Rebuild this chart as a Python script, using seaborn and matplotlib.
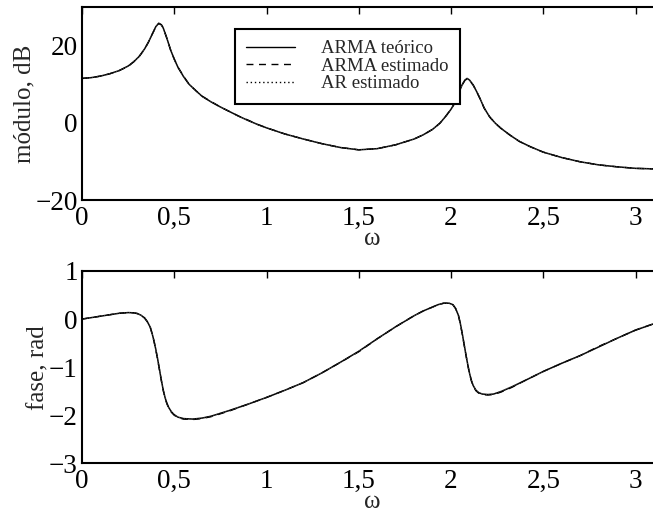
import numpy as np
import pandas as pd
import matplotlib
matplotlib.use("Agg")
import matplotlib.pyplot as plt
import seaborn as sns

# ---------------- data ----------------
omega_mag = [0.00, 0.05, 0.10, 0.15, 0.20, 0.25, 0.28, 0.31, 0.34, 0.36,
             0.38, 0.40, 0.416, 0.43, 0.44, 0.46, 0.48, 0.50, 0.52, 0.55,
             0.58, 0.62, 0.65, 0.70, 0.75, 0.80, 0.85, 0.90, 0.95, 1.00,
             1.10, 1.20, 1.30, 1.40, 1.50, 1.60, 1.70, 1.80, 1.85, 1.90,
             1.94, 1.97, 2.00, 2.02, 2.04, 2.06, 2.075, 2.087, 2.10, 2.12,
             2.14, 2.16, 2.18, 2.21, 2.24, 2.27, 2.32, 2.37, 2.43, 2.50,
             2.60, 2.70, 2.80, 2.90, 3.00, 3.1416]
mag_arma_teo = [11.5, 11.7, 12.1, 12.7, 13.5, 14.7, 15.8, 17.2, 19.2, 20.9,
                22.9, 24.9, 25.8, 25.4, 24.6, 21.9, 18.9, 16.5, 14.4, 12.0,
                10.0, 8.2, 6.9, 5.4, 4.1, 2.9, 1.7, 0.6, -0.4, -1.3,
                -2.9, -4.2, -5.4, -6.4, -7.0, -6.7, -5.7, -4.2, -3.1, -1.7,
                -0.1, 1.6, 3.5, 5.1, 7.5, 9.8, 11.0, 11.5, 11.1, 9.8,
                8.0, 6.0, 3.8, 1.5, -0.1, -1.4, -3.2, -4.8, -6.2, -7.6,
                -9.0, -10.1, -10.9, -11.4, -11.8, -12.0]
mag_arma_est = [11.5, 11.7, 12.1, 12.7, 13.5, 14.6, 15.8, 17.2, 19.1, 20.9,
                22.9, 24.8, 25.7, 25.4, 24.6, 21.9, 18.9, 16.5, 14.4, 12.1,
                10.0, 8.2, 6.9, 5.5, 4.1, 2.9, 1.7, 0.7, -0.4, -1.3,
                -2.9, -4.2, -5.4, -6.4, -7.0, -6.7, -5.7, -4.2, -3.1, -1.7,
                -0.1, 1.6, 3.5, 5.1, 7.4, 9.8, 11.0, 11.4, 11.0, 9.8,
                8.0, 6.0, 3.8, 1.5, -0.1, -1.4, -3.2, -4.8, -6.2, -7.6,
                -9.0, -10.1, -10.9, -11.4, -11.8, -12.0]
mag_ar_est = [11.5, 11.7, 12.1, 12.7, 13.5, 14.7, 15.8, 17.2, 19.2, 20.9,
              22.8, 24.9, 25.8, 25.4, 24.5, 21.9, 18.9, 16.5, 14.4, 12.0,
              10.0, 8.2, 6.8, 5.4, 4.1, 2.9, 1.7, 0.6, -0.4, -1.3,
              -2.9, -4.2, -5.4, -6.4, -7.0, -6.7, -5.7, -4.2, -3.1, -1.7,
              -0.1, 1.6, 3.5, 5.1, 7.5, 9.8, 11.0, 11.5, 11.1, 9.8,
              8.0, 6.0, 3.8, 1.5, -0.1, -1.4, -3.2, -4.7, -6.2, -7.6,
              -9.0, -10.1, -10.9, -11.4, -11.8, -12.0]

omega_fase = [0.00, 0.05, 0.10, 0.15, 0.20, 0.25, 0.28, 0.30, 0.32, 0.34,
              0.355, 0.37, 0.38, 0.39, 0.40, 0.41, 0.42, 0.43, 0.44, 0.45,
              0.46, 0.47, 0.485, 0.50, 0.52, 0.55, 0.60, 0.65, 0.70, 0.80,
              0.90, 1.00, 1.10, 1.20, 1.30, 1.40, 1.50, 1.60, 1.70, 1.80,
              1.85, 1.90, 1.93, 1.96, 1.99, 2.01, 2.025, 2.04, 2.05, 2.06,
              2.07, 2.08, 2.09, 2.10, 2.11, 2.12, 2.135, 2.15, 2.17, 2.20,
              2.23, 2.27, 2.33, 2.40, 2.50, 2.60, 2.70, 2.80, 2.90, 3.00,
              3.1416]
fase_arma_teo = [0.00, 0.03, 0.06, 0.09, 0.12, 0.135, 0.13, 0.115, 0.08, 0.02,
                 -0.06, -0.17, -0.30, -0.45, -0.63, -0.83, -1.05, -1.27, -1.47, -1.63,
                 -1.75, -1.84, -1.93, -1.99, -2.04, -2.07, -2.08, -2.06, -2.02, -1.90,
                 -1.77, -1.63, -1.48, -1.32, -1.12, -0.90, -0.67, -0.41, -0.16, 0.07,
                 0.17, 0.25, 0.30, 0.33, 0.33, 0.30, 0.22, 0.08, -0.08, -0.28,
                 -0.50, -0.72, -0.93, -1.12, -1.27, -1.38, -1.48, -1.53, -1.56, -1.57,
                 -1.56, -1.51, -1.41, -1.28, -1.09, -0.92, -0.76, -0.58, -0.40, -0.23,
                 -0.04]
fase_arma_est = [0.00, 0.03, 0.06, 0.09, 0.12, 0.135, 0.13, 0.115, 0.08, 0.02,
                 -0.06, -0.17, -0.31, -0.46, -0.64, -0.84, -1.06, -1.28, -1.48, -1.64,
                 -1.76, -1.85, -1.94, -2.00, -2.05, -2.08, -2.09, -2.07, -2.03, -1.91,
                 -1.77, -1.63, -1.48, -1.32, -1.12, -0.90, -0.68, -0.41, -0.16, 0.07,
                 0.17, 0.25, 0.30, 0.33, 0.33, 0.30, 0.22, 0.08, -0.09, -0.29,
                 -0.51, -0.73, -0.94, -1.13, -1.28, -1.39, -1.49, -1.54, -1.57, -1.58,
                 -1.57, -1.52, -1.42, -1.28, -1.09, -0.92, -0.76, -0.57, -0.40, -0.23,
                 -0.04]
fase_ar_est = [0.00, 0.03, 0.06, 0.09, 0.12, 0.135, 0.13, 0.115, 0.08, 0.02,
               -0.06, -0.17, -0.30, -0.45, -0.63, -0.83, -1.05, -1.27, -1.47, -1.63,
               -1.75, -1.84, -1.93, -1.99, -2.04, -2.07, -2.08, -2.06, -2.02, -1.90,
               -1.77, -1.63, -1.48, -1.32, -1.12, -0.90, -0.67, -0.41, -0.16, 0.07,
               0.17, 0.25, 0.30, 0.33, 0.33, 0.30, 0.22, 0.08, -0.08, -0.28,
               -0.50, -0.72, -0.93, -1.12, -1.27, -1.38, -1.48, -1.53, -1.56, -1.57,
               -1.56, -1.50, -1.40, -1.28, -1.09, -0.91, -0.76, -0.58, -0.40, -0.22,
               -0.04]

series_names = ["ARMA teórico", "ARMA estimado", "AR estimado"]
x_ticks = [0, 0.5, 1, 1.5, 2, 2.5, 3]
x_ticklabels = ["0", "0,5", "1", "1,5", "2", "2,5", "3"]
mag_ticks = [-20, 0, 20]
mag_ticklabels = ["\u221220", "0", "20"]
fase_ticks = [1, 0, -1, -2, -3]
fase_ticklabels = ["1", "0", "\u22121", "\u22122", "\u22123"]

# ---------------- figure ----------------
sns.set_style("white")
plt.rcParams["font.family"] = ["Liberation Serif", "DejaVu Serif"]

W, H = 653, 518
fig = plt.figure(figsize=(W / 100, H / 100), dpi=100)

ppu = 184.5  # pixels per omega unit
left = 82 / W
width = np.pi * ppu / W
ax1 = fig.add_axes([left, (H - 200) / H, width, 193 / H])
ax2 = fig.add_axes([left, (H - 463.3) / H, width, 192.3 / H])

mag_df = pd.DataFrame({
    "omega": omega_mag * 3,
    "val": mag_arma_teo + mag_arma_est + mag_ar_est,
    "serie": sum([[n] * len(omega_mag) for n in series_names], []),
})
fase_df = pd.DataFrame({
    "omega": omega_fase * 3,
    "val": fase_arma_teo + fase_arma_est + fase_ar_est,
    "serie": sum([[n] * len(omega_fase) for n in series_names], []),
})

dashes = {"ARMA teórico": "", "ARMA estimado": (5, 4), "AR estimado": (1, 2)}
palette = {n: "black" for n in series_names}

for ax, df in [(ax1, mag_df), (ax2, fase_df)]:
    sns.lineplot(data=df, x="omega", y="val", hue="serie", style="serie",
                 palette=palette, dashes=dashes, sort=False, estimator=None,
                 linewidth=1.0, ax=ax, legend=(ax is ax1))

lw_map = {0: 1.1, 1: 1.0, 2: 0.6}
for ax in (ax1, ax2):
    for i, ln in enumerate(ax.get_lines()[:3]):
        ln.set_linewidth(lw_map[i])
        if i == 2:
            ln.set_color("#555555")

for ax in (ax1, ax2):
    ax.set_xlim(0, np.pi)
    ax.set_xticks(x_ticks)
    ax.set_xticklabels(x_ticklabels)
    ax.tick_params(direction="in", top=True, right=True, length=5, width=1,
                   labelsize=19.5, colors="black")
    ax.tick_params(axis="x", pad=4)
    ax.tick_params(axis="y", pad=3)
    for sp in ax.spines.values():
        sp.set_visible(True)
        sp.set_color("black")
        sp.set_linewidth(1.5)
    ax.set_xlabel("ω", fontsize=18, labelpad=-2)

ax1.set_ylim(-20, 30)
ax1.set_yticks(mag_ticks)
ax1.set_yticklabels(mag_ticklabels)
ax1.set_ylabel("módulo, dB", fontsize=18, labelpad=0)

ax2.set_ylim(-3, 1)
ax2.set_yticks(fase_ticks)
ax2.set_yticklabels(fase_ticklabels)
ax2.set_ylabel("fase, rad", fontsize=18, labelpad=0)

# legend
handles, labels = ax1.get_legend_handles_labels()
ax1.get_legend().remove()
leg = ax1.legend(handles[-3:], labels[-3:], loc="upper left",
                 bbox_to_anchor=(235 / W, 1 - 29 / H),
                 bbox_transform=fig.transFigure, borderaxespad=0,
                 fontsize=13.5, frameon=True, fancybox=False, shadow=False,
                 handlelength=2.6, handletextpad=1.4, borderpad=0.6,
                 labelspacing=0.02)
leg.get_frame().set_edgecolor("black")
leg.get_frame().set_linewidth(1.5)
leg.get_frame().set_alpha(1)

fig.savefig("out.png", dpi=100)
